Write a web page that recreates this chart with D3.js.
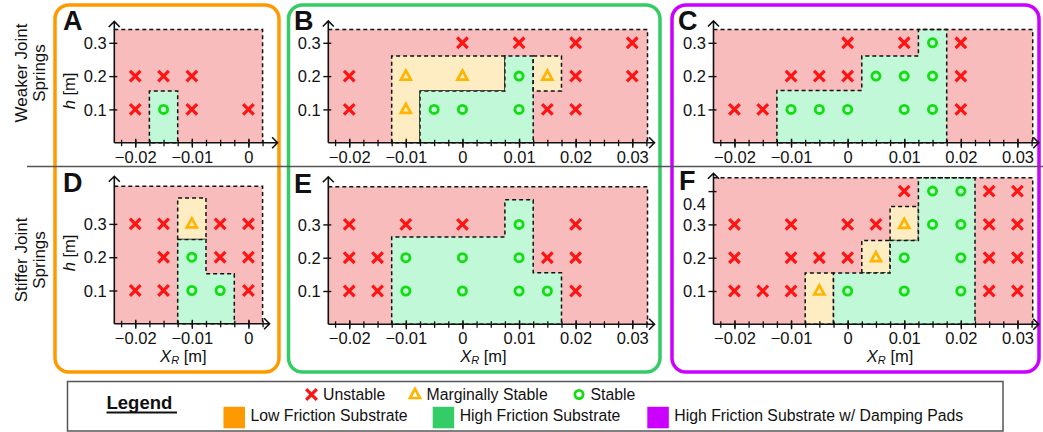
<!DOCTYPE html>
<html>
<head>
<meta charset="utf-8">
<script src="https://cdn.jsdelivr.net/npm/d3@7"></script>
<style>
  body { margin: 0; background: #fff; }
  svg { display: block; }
</style>
</head>
<body>
<svg id="chart" width="1043" height="432"></svg>
<script>
// ---- values (x = X_R in m, h in m) ----
const xMajorTicks = [-0.02, -0.01, 0, 0.01, 0.02, 0.03];
const hTicks = [0.1, 0.2, 0.3];
const hTicksF = [0.1, 0.2, 0.3, 0.4];

// A: low friction, weaker springs
const unstableA = [[-0.02,0.2],[-0.015,0.2],[-0.01,0.2],[-0.02,0.1],[-0.01,0.1],[0,0.1]];
const marginalA = [];
const stableA = [[-0.015,0.1]];
const zonesA = [
  {kind: "stable", pts: [[-0.0175,0],[-0.0175,0.155],[-0.0125,0.155],[-0.0125,0]]}
];

// B: high friction, weaker springs
const unstableB = [[0,0.3],[0.01,0.3],[0.02,0.3],[0.03,0.3],[-0.02,0.2],[0.02,0.2],[0.03,0.2],[-0.02,0.1],[0.015,0.1],[0.02,0.1]];
const marginalB = [[-0.01,0.2],[0,0.2],[0.015,0.2],[-0.01,0.1]];
const stableB = [[0.01,0.2],[-0.005,0.1],[0,0.1],[0.01,0.1]];
const zonesB = [
  {kind: "marginal", pts: [[-0.0125,0],[-0.0125,0.26],[0.0075,0.26],[0.0075,0.155],[-0.0075,0.155],[-0.0075,0]]},
  {kind: "stable", pts: [[-0.0075,0],[-0.0075,0.155],[0.0075,0.155],[0.0075,0.26],[0.0125,0.26],[0.0125,0]]},
  {kind: "marginal", pts: [[0.0125,0.155],[0.0125,0.26],[0.0175,0.26],[0.0175,0.155]]}
];

// C: high friction + damping pads, weaker springs
const unstableC = [[0,0.3],[0.01,0.3],[0.02,0.3],[-0.01,0.2],[-0.005,0.2],[0,0.2],[0.02,0.2],[-0.02,0.1],[-0.015,0.1],[0.02,0.1]];
const marginalC = [];
const stableC = [[0.015,0.3],[0.005,0.2],[0.01,0.2],[0.015,0.2],[-0.01,0.1],[-0.005,0.1],[0,0.1],[0.01,0.1],[0.015,0.1]];
const zonesC = [
  {kind: "stable", pts: [[-0.0125,0],[-0.0125,0.157],[0.0025,0.157],[0.0025,0.26],[0.0125,0.26],[0.0125,0.34],[0.0175,0.34],[0.0175,0]]}
];

// D: low friction, stiffer springs
const unstableD = [[-0.02,0.3],[-0.015,0.3],[-0.005,0.3],[0,0.3],[-0.015,0.2],[-0.005,0.2],[0,0.2],[-0.02,0.1],[-0.015,0.1],[0,0.1]];
const marginalD = [[-0.01,0.3]];
const stableD = [[-0.01,0.2],[-0.01,0.1],[-0.005,0.1]];
const zonesD = [
  {kind: "marginal", pts: [[-0.0125,0.253],[-0.0125,0.378],[-0.0075,0.378],[-0.0075,0.253]]},
  {kind: "stable", pts: [[-0.0125,0],[-0.0125,0.253],[-0.0075,0.253],[-0.0075,0.15],[-0.0025,0.15],[-0.0025,0]]}
];

// E: high friction, stiffer springs
const unstableE = [[-0.02,0.3],[-0.01,0.3],[0,0.3],[0.02,0.3],[-0.02,0.2],[-0.015,0.2],[0.015,0.2],[0.02,0.2],[-0.02,0.1],[-0.015,0.1],[0.02,0.1]];
const marginalE = [];
const stableE = [[0.01,0.3],[-0.01,0.2],[0,0.2],[0.01,0.2],[-0.01,0.1],[0,0.1],[0.01,0.1],[0.015,0.1]];
const zonesE = [
  {kind: "stable", pts: [[-0.0125,0],[-0.0125,0.262],[0.0075,0.262],[0.0075,0.374],[0.0125,0.374],[0.0125,0.155],[0.0175,0.155],[0.0175,0]]}
];

// F: high friction + damping pads, stiffer springs
const unstableF = [[0.01,0.4],[0.025,0.4],[0.03,0.4],
  [-0.02,0.3],[-0.01,0.3],[0,0.3],[0.005,0.3],[0.025,0.3],[0.03,0.3],
  [-0.02,0.2],[-0.01,0.2],[-0.005,0.2],[0,0.2],[0.025,0.2],[0.03,0.2],
  [-0.02,0.1],[-0.015,0.1],[-0.01,0.1],[0.025,0.1],[0.03,0.1]];
const marginalF = [[0.01,0.3],[0.005,0.2],[-0.005,0.1]];
const stableF = [[0.015,0.4],[0.02,0.4],[0.015,0.3],[0.02,0.3],[0.01,0.2],[0.02,0.2],[0,0.1],[0.01,0.1],[0.02,0.1]];
const zonesF = [
  {kind: "marginal", pts: [[-0.0075,0],[-0.0075,0.154],[-0.0025,0.154],[-0.0025,0]]},
  {kind: "marginal", pts: [[0.0025,0.154],[0.0025,0.252],[0.0075,0.252],[0.0075,0.154]]},
  {kind: "marginal", pts: [[0.0075,0.252],[0.0075,0.354],[0.0125,0.354],[0.0125,0.252]]},
  {kind: "stable", pts: [[-0.0025,0],[-0.0025,0.154],[0.0075,0.154],[0.0075,0.252],[0.0125,0.252],[0.0125,0.44],[0.0225,0.44],[0.0225,0]]}
];

const markerLabels = ["Unstable", "Marginally Stable", "Stable"];
const substrateLabels = ["Low Friction Substrate", "High Friction Substrate", "High Friction Substrate w/ Damping Pads"];
const substrateColors = ["#ff9900", "#33cc66", "#cc00ff"];

// ---- styling ----
const FONT = "'Liberation Sans', Arial, Helvetica, sans-serif";
const col = {
  unstable: "#ff1414", marginal: "#ffb400", stable: "#11dd11",
  unstableFill: "#f8bcbc", marginalFill: "#feedc2", stableFill: "#c0f8d8"
};
const xMin = -0.0237;
const pxPerX = 5660, pxPerH = 333;

const panels = [
  {id: "A", ox: 114.3, oy: 142.7, xMax: 0.0025, hMax: 0.34, arrowX: 15, arrowY: 8, u: unstableA, m: marginalA, s: stableA, zones: zonesA, hLabel: 91, xLabel: null, letter: [63, 30], ticks: hTicks},
  {id: "B", ox: 328.3, oy: 142.7, xMax: 0.0327, hMax: 0.34, arrowX: 7, arrowY: 8.5, u: unstableB, m: marginalB, s: stableB, zones: zonesB, hLabel: null, xLabel: null, letter: [294, 30], ticks: hTicks},
  {id: "C", ox: 713.5, oy: 142.7, xMax: 0.0327, hMax: 0.34, arrowX: 6, arrowY: 8.5, u: unstableC, m: marginalC, s: stableC, zones: zonesC, hLabel: null, xLabel: null, letter: [678, 30], ticks: hTicks},
  {id: "D", ox: 114.3, oy: 323.8, xMax: 0.0025, hMax: 0.413, arrowX: 7, arrowY: 10, u: unstableD, m: marginalD, s: stableD, zones: zonesD, hLabel: 253, xLabel: -0.0115, letter: [63, 192], ticks: hTicks},
  {id: "E", ox: 328.3, oy: 324.3, xMax: 0.0327, hMax: 0.413, arrowX: 7, arrowY: 10, u: unstableE, m: marginalE, s: stableE, zones: zonesE, hLabel: null, xLabel: 0.0037, letter: [294, 193], ticks: hTicks},
  {id: "F", ox: 713.5, oy: 324.3, xMax: 0.0327, hMax: 0.44, arrowX: 6, arrowY: 4.5, u: unstableF, m: marginalF, s: stableF, zones: zonesF, hLabel: null, xLabel: 0.0075, letter: [679, 190], ticks: hTicksF}
];

const svg = d3.select("#chart").attr("font-family", FONT);

// ---- frames around the substrate columns ----
const frames = [
  {x: 55, y: 5, w: 224, h: 367, c: substrateColors[0]},
  {x: 288.5, y: 5, w: 371.5, h: 367, c: substrateColors[1]},
  {x: 672, y: 5, w: 367, h: 367, c: substrateColors[2]}
];
svg.selectAll(".frame").data(frames).join("rect")
  .attr("class", "frame")
  .attr("x", d => d.x).attr("y", d => d.y)
  .attr("width", d => d.w).attr("height", d => d.h)
  .attr("rx", 14).attr("fill", "none")
  .attr("stroke", d => d.c).attr("stroke-width", 3.5);

// separator between rows
svg.append("line")
  .attr("x1", 27).attr("x2", 1043).attr("y1", 166.5).attr("y2", 166.5)
  .attr("stroke", "#555").attr("stroke-width", 1.4);

// row labels
[["Weaker Joint", "Springs", 73], ["Stiffer Joint", "Springs", 260]].forEach(r => {
  const t = svg.append("text")
    .attr("transform", `translate(27,${r[2]}) rotate(-90)`)
    .attr("text-anchor", "middle").attr("font-size", 17).attr("fill", "#111");
  t.append("tspan").attr("x", 0).attr("y", 0).text(r[0]);
  t.append("tspan").attr("x", 0).attr("y", 18).text(r[1]);
});

const fmt = d => d === 0 ? "0" : d3.format(".2f")(d);
const line = d3.line();

function drawMarker(sel, kind) {
  if (kind === "unstable") {
    sel.append("path").attr("d", "M-5.3,-5.3L5.3,5.3M5.3,-5.3L-5.3,5.3")
      .attr("stroke", col.unstable).attr("stroke-width", 3.2).attr("fill", "none");
  } else if (kind === "marginal") {
    sel.append("path").attr("d", "M0,-5.6L5,3.5L-5,3.5Z")
      .attr("stroke", col.marginal).attr("stroke-width", 2.7).attr("fill", "none")
      .attr("stroke-linejoin", "miter");
  } else {
    sel.append("circle").attr("r", 4.1)
      .attr("stroke", col.stable).attr("stroke-width", 2.8).attr("fill", "none");
  }
}

panels.forEach(p => {
  const x = d3.scaleLinear().domain([xMin, p.xMax]).range([p.ox, p.ox + (p.xMax - xMin) * pxPerX]);
  const y = d3.scaleLinear().domain([0, p.hMax]).range([p.oy, p.oy - p.hMax * pxPerH]);
  const g = svg.append("g").attr("class", "panel-" + p.id);

  // unstable background
  g.append("rect")
    .attr("x", x(xMin)).attr("y", y(p.hMax))
    .attr("width", x(p.xMax) - x(xMin)).attr("height", y(0) - y(p.hMax))
    .attr("fill", col.unstableFill);

  // stable / marginal zones
  g.selectAll(".zone").data(p.zones).join("path")
    .attr("class", "zone")
    .attr("d", d => line(d.pts.map(q => [x(q[0]), y(q[1])])) + "Z")
    .attr("fill", d => d.kind === "stable" ? col.stableFill : col.marginalFill)
    .attr("stroke", "#111").attr("stroke-width", 1.5).attr("stroke-dasharray", "4,3");

  // dashed outline of the tested region
  g.append("path")
    .attr("d", `M${x(xMin)},${y(p.hMax)}H${x(p.xMax)}V${y(0)}`)
    .attr("fill", "none").attr("stroke", "#111")
    .attr("stroke-width", 1.5).attr("stroke-dasharray", "4,3");

  // minor x ticks
  const minor = d3.range(-0.0225, p.xMax + 1e-6, 0.0025);
  g.append("g").attr("transform", `translate(0,${p.oy})`)
    .call(d3.axisBottom(x).tickValues(minor).tickFormat("").tickSize(3))
    .call(a => {
      a.select(".domain").remove();
      a.selectAll(".tick line").attr("y1", -3).attr("y2", 3.5).attr("stroke", "#111").attr("stroke-width", 1.3);
    });

  // major x ticks + labels
  const majors = xMajorTicks.filter(v => v <= p.xMax + 1e-6);
  g.append("g").attr("transform", `translate(0,${p.oy})`)
    .call(d3.axisBottom(x).tickValues(majors).tickFormat(fmt).tickSize(5))
    .call(a => {
      a.attr("font-family", FONT).attr("font-size", 16.5);
      a.select(".domain").remove();
      a.selectAll(".tick line").attr("y1", -4).attr("y2", 5).attr("stroke", "#111").attr("stroke-width", 1.4);
      a.selectAll(".tick text").attr("y", 20).attr("dy", 0).attr("fill", "#111");
    });

  // y ticks
  g.append("g").attr("transform", `translate(${p.ox},0)`)
    .call(d3.axisLeft(y).tickValues(p.ticks).tickFormat(d3.format(".1f")).tickSize(5))
    .call(a => {
      a.attr("font-family", FONT).attr("font-size", 16.5);
      a.select(".domain").remove();
      a.selectAll(".tick line").attr("x1", 3).attr("x2", -5).attr("stroke", "#111").attr("stroke-width", 1.4);
      a.selectAll(".tick text").attr("x", -7.5).attr("dy", "0.34em").attr("fill", "#111");
      // the top label in F sits a little below its tick in the source figure
      if (p.id === "F") a.selectAll(".tick text").filter(d => d === 0.4).attr("dy", "1.12em");
    });

  // axis lines with open arrow heads
  const xEnd = x(p.xMax) + p.arrowX, yEnd = y(p.hMax) - p.arrowY;
  g.append("path")
    .attr("d", `M${p.ox},${p.oy}H${xEnd}M${xEnd - 5.5},${p.oy - 5.5}L${xEnd},${p.oy}L${xEnd - 5.5},${p.oy + 5.5}`)
    .attr("fill", "none").attr("stroke", "#111").attr("stroke-width", 1.6);
  g.append("path")
    .attr("d", `M${p.ox},${p.oy}V${yEnd}M${p.ox - 5.5},${yEnd + 5.5}L${p.ox},${yEnd}L${p.ox + 5.5},${yEnd + 5.5}`)
    .attr("fill", "none").attr("stroke", "#111").attr("stroke-width", 1.6);

  // markers
  [["unstable", p.u], ["marginal", p.m], ["stable", p.s]].forEach(([kind, pts]) => {
    g.selectAll(".m-" + kind).data(pts).join("g")
      .attr("class", "m-" + kind)
      .attr("transform", d => `translate(${x(d[0])},${y(d[1])})`)
      .each(function() { drawMarker(d3.select(this), kind); });
  });

  // panel letter
  g.append("text").attr("x", p.letter[0]).attr("y", p.letter[1])
    .attr("font-size", 27).attr("font-weight", "bold").attr("fill", "#111").text(p.id);

  // axis titles
  if (p.hLabel !== null) {
    const t = g.append("text")
      .attr("transform", `translate(75,${p.hLabel}) rotate(-90)`)
      .attr("text-anchor", "middle").attr("font-size", 16.5).attr("fill", "#111");
    t.append("tspan").attr("font-style", "italic").text("h");
    t.append("tspan").text(" [m]");
  }
  if (p.xLabel !== null) {
    const t = g.append("text")
      .attr("x", x(p.xLabel)).attr("y", 361.5)
      .attr("text-anchor", "middle").attr("font-size", 16.5).attr("fill", "#111");
    t.append("tspan").attr("font-style", "italic").text("X");
    t.append("tspan").attr("font-style", "italic").attr("font-size", 11).attr("dy", 2).text("R");
    t.append("tspan").attr("dy", -2).text(" [m]");
  }
});

// ---- legend ----
const lg = svg.append("g").attr("class", "legend");
lg.append("rect").attr("x", 67.5).attr("y", 381.5).attr("width", 935.5).attr("height", 49.5)
  .attr("fill", "#fff").attr("stroke", "#555").attr("stroke-width", 1.5);
lg.append("text").attr("x", 106.5).attr("y", 408.5)
  .attr("font-size", 18.5).attr("font-weight", "bold").attr("fill", "#111").text("Legend");
lg.append("line").attr("x1", 106.5).attr("x2", 177).attr("y1", 412.5).attr("y2", 412.5)
  .attr("stroke", "#111").attr("stroke-width", 1.8);

const markerKinds = ["unstable", "marginal", "stable"];
const markerX = [311.5, 415, 579];
markerLabels.forEach((lbl, i) => {
  const mg = lg.append("g").attr("transform", `translate(${markerX[i]},394.5)`);
  drawMarker(mg, markerKinds[i]);
  lg.append("text").attr("x", markerX[i] + 11.5).attr("y", 399.5)
    .attr("font-size", 15.8).attr("fill", "#111").text(lbl);
});

const squareX = [223.5, 432.7, 647.3];
substrateLabels.forEach((lbl, i) => {
  lg.append("rect").attr("x", squareX[i]).attr("y", 406.8).attr("width", 21.5).attr("height", 21.5)
    .attr("fill", substrateColors[i]);
  lg.append("text").attr("x", squareX[i] + 27).attr("y", 420.5)
    .attr("font-size", 15.8).attr("fill", "#111").text(lbl);
});
</script>
</body>
</html>
